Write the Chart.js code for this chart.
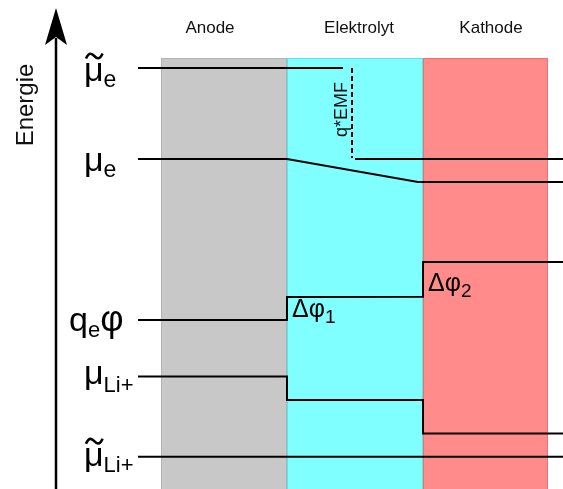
<!DOCTYPE html>
<html>
<head>
<meta charset="utf-8">
<script src="https://cdn.jsdelivr.net/npm/chart.js@4/dist/chart.umd.min.js"></script>
<style>
  html, body { margin: 0; padding: 0; background: #fff; }
  #wrap { width: 563px; height: 489px; position: relative; }
</style>
</head>
<body>
<div id="wrap"><canvas id="c"></canvas></div>
<script>
// ---- Position axis (arbitrary length units, left to right) ----
const xMax = 563;
const leadStart = 138;                 // where every level line starts
const regionNames = ['Anode', 'Elektrolyt', 'Kathode'];
const regionEdges = [161, 287, 423, 548];
const regionNameX = [210, 359, 491];
const regionFill = ['#c8c8c8', '#7fffff', '#ff8b8b'];
const regionStroke = ['#b2b2b2', '#55e8e8', '#ff6a6a'];

// ---- Energy axis (arbitrary units, increasing upwards) ----
const yMax = 489;
const regionTop = 431;
const axisTip = 481;

// electrochemical potential of the electrons
const muTildeE_anode = 421;
const muTildeE_anodeEnd = 343;
const muTildeE_cathode = 330;
const muTildeE_cathodeStart = 355;
const emfX = 352;

// chemical potential of the electrons
const muE = [330, 330, 307, 307];
const muE_x = [leadStart, 287, 418, xMax];

// electrostatic potential energy q_e * phi
const qPhi = [169, 169, 192, 192.3, 227, 227];
const qPhi_x = [leadStart, 287, 287, 423, 423, xMax];

// chemical potential of Li+
const muLi = [112.5, 112.5, 89, 89, 55.5, 55.5];
const muLi_x = [leadStart, 287, 287, 423, 423, xMax];

// electrochemical potential of Li+
const muTildeLi = 32.3;

const pts = (xs, ys) => xs.map((x, i) => ({ x, y: ys[i] }));

const lineStyle = {
  showLine: true, borderColor: '#000', borderWidth: 2, pointRadius: 0,
  fill: false, tension: 0, borderJoinStyle: 'miter', borderCapStyle: 'butt'
};

const datasets = [
  { ...lineStyle, data: pts([leadStart, muTildeE_anodeEnd], [muTildeE_anode, muTildeE_anode]) },
  { ...lineStyle, data: pts([muTildeE_cathodeStart, xMax], [muTildeE_cathode, muTildeE_cathode]) },
  { ...lineStyle, borderDash: [5, 3], data: pts([emfX, emfX], [muTildeE_anode, muTildeE_cathode + 1]) },
  { ...lineStyle, data: pts(muE_x, muE) },
  { ...lineStyle, data: pts(qPhi_x, qPhi) },
  { ...lineStyle, data: pts(muLi_x, muLi) },
  { ...lineStyle, data: pts([leadStart, xMax], [muTildeLi, muTildeLi]) },
  { ...lineStyle, borderWidth: 2.5, data: pts([56, 56], [0, axisTip - 30]) }
];

const FONT = '"Liberation Sans", Arial, sans-serif';

// Draws a run of text pieces; each piece: [text, size, dy]
function drawPieces(ctx, x, y, pieces) {
  let cx = x;
  for (const [t, size, dy] of pieces) {
    ctx.font = size + 'px ' + FONT;
    ctx.fillText(t, cx, y + (dy || 0));
    cx += ctx.measureText(t).width;
  }
}

// Symbol labels next to the level lines: [x, level, baseline offset (px), pieces, tilde]
const symbolLabels = [
  [84, muTildeE_anode, 13, [['μ', 34], ['e', 23, 6]], true],
  [84, muE[0], 12, [['μ', 34], ['e', 23, 6]], false],
  [69, qPhi[0], 11, [['q', 34], ['e', 22, 6], ['φ', 36]], false],
  [84, muLi[0], 7, [['μ', 34], ['Li+', 22, 8]], false],
  [84, muTildeLi, 9.5, [['μ', 34], ['Li+', 22, 6]], true]
];

function drawTilde(ctx, x0, w, cy) {
  ctx.beginPath();
  ctx.moveTo(x0, cy + 2.5);
  ctx.bezierCurveTo(x0 + w * 0.2, cy - 5, x0 + w * 0.38, cy - 2, x0 + w * 0.5, cy);
  ctx.bezierCurveTo(x0 + w * 0.62, cy + 2, x0 + w * 0.8, cy + 5, x0 + w, cy - 2.5);
  ctx.lineWidth = 2.6;
  ctx.strokeStyle = '#000';
  ctx.stroke();
}

const diagramPlugin = {
  id: 'diagram',
  beforeDatasetsDraw(chart) {
    const { ctx, scales: { x, y } } = chart;
    ctx.save();
    for (let i = 0; i < 3; i++) {
      const x0 = x.getPixelForValue(regionEdges[i]);
      const x1 = x.getPixelForValue(regionEdges[i + 1]);
      const y0 = y.getPixelForValue(regionTop);
      const y1 = y.getPixelForValue(0) + 2;
      ctx.fillStyle = regionFill[i];
      ctx.fillRect(x0, y0, x1 - x0, y1 - y0);
      ctx.strokeStyle = regionStroke[i];
      ctx.lineWidth = 1;
      ctx.strokeRect(x0 + 0.5, y0 + 0.5, x1 - x0 - 1, y1 - y0);
    }
    ctx.restore();
  },
  afterDatasetsDraw(chart) {
    const { ctx, scales: { x, y } } = chart;
    ctx.save();
    ctx.fillStyle = '#000';
    ctx.textBaseline = 'alphabetic';

    // energy axis arrow head
    const ax = x.getPixelForValue(56), ay = y.getPixelForValue(axisTip);
    ctx.beginPath();
    ctx.moveTo(ax, ay);
    ctx.lineTo(ax + 11, ay + 37);
    ctx.lineTo(ax, ay + 29);
    ctx.lineTo(ax - 11, ay + 37);
    ctx.closePath();
    ctx.fill();

    // region titles
    ctx.font = '17px ' + FONT;
    ctx.textAlign = 'center';
    ctx.fillStyle = '#111';
    regionNames.forEach((n, i) => ctx.fillText(n, x.getPixelForValue(regionNameX[i]), 33));

    // axis title
    ctx.save();
    ctx.translate(33, 105);
    ctx.rotate(-Math.PI / 2);
    ctx.font = '24px ' + FONT;
    ctx.fillText('Energie', 0, 0);
    ctx.restore();

    // q*EMF along the dashed line
    ctx.save();
    ctx.translate(x.getPixelForValue(emfX) - 5, y.getPixelForValue((muTildeE_anode + muTildeE_cathode) / 2) - 4);
    ctx.rotate(-Math.PI / 2);
    ctx.font = '18px ' + FONT;
    ctx.fillText('q*EMF', 0, 0);
    ctx.restore();

    ctx.fillStyle = '#000';
    ctx.textAlign = 'left';
    // level symbols
    for (const [lx, lv, off, pieces, tilde] of symbolLabels) {
      const px = x.getPixelForValue(lx), py = y.getPixelForValue(lv) + off;
      drawPieces(ctx, px, py, pieces);
      if (tilde) {
        ctx.font = '34px ' + FONT;
        const w = ctx.measureText('μ').width;
        drawTilde(ctx, px + 2, w - 3, py - 25);
      }
    }

    // potential steps at the interfaces
    drawPieces(ctx, x.getPixelForValue(qPhi_x[2]) + 5, y.getPixelForValue(qPhi[2]) + 20, [['Δφ', 25], ['1', 19, 6]]);
    drawPieces(ctx, x.getPixelForValue(qPhi_x[4]) + 5, y.getPixelForValue(qPhi[4]) + 29, [['Δφ', 25], ['2', 19, 6]]);
    ctx.restore();
  }
};

new Chart(document.getElementById('c'), {
  type: 'scatter',
  data: { datasets },
  options: {
    responsive: true,
    maintainAspectRatio: false,
    animation: false,
    events: [],
    layout: { padding: 0 },
    plugins: { legend: { display: false }, tooltip: { enabled: false } },
    scales: {
      x: { type: 'linear', min: 0, max: xMax, display: false },
      y: { type: 'linear', min: 0, max: yMax, display: false }
    }
  },
  plugins: [diagramPlugin]
});
</script>
</body>
</html>
